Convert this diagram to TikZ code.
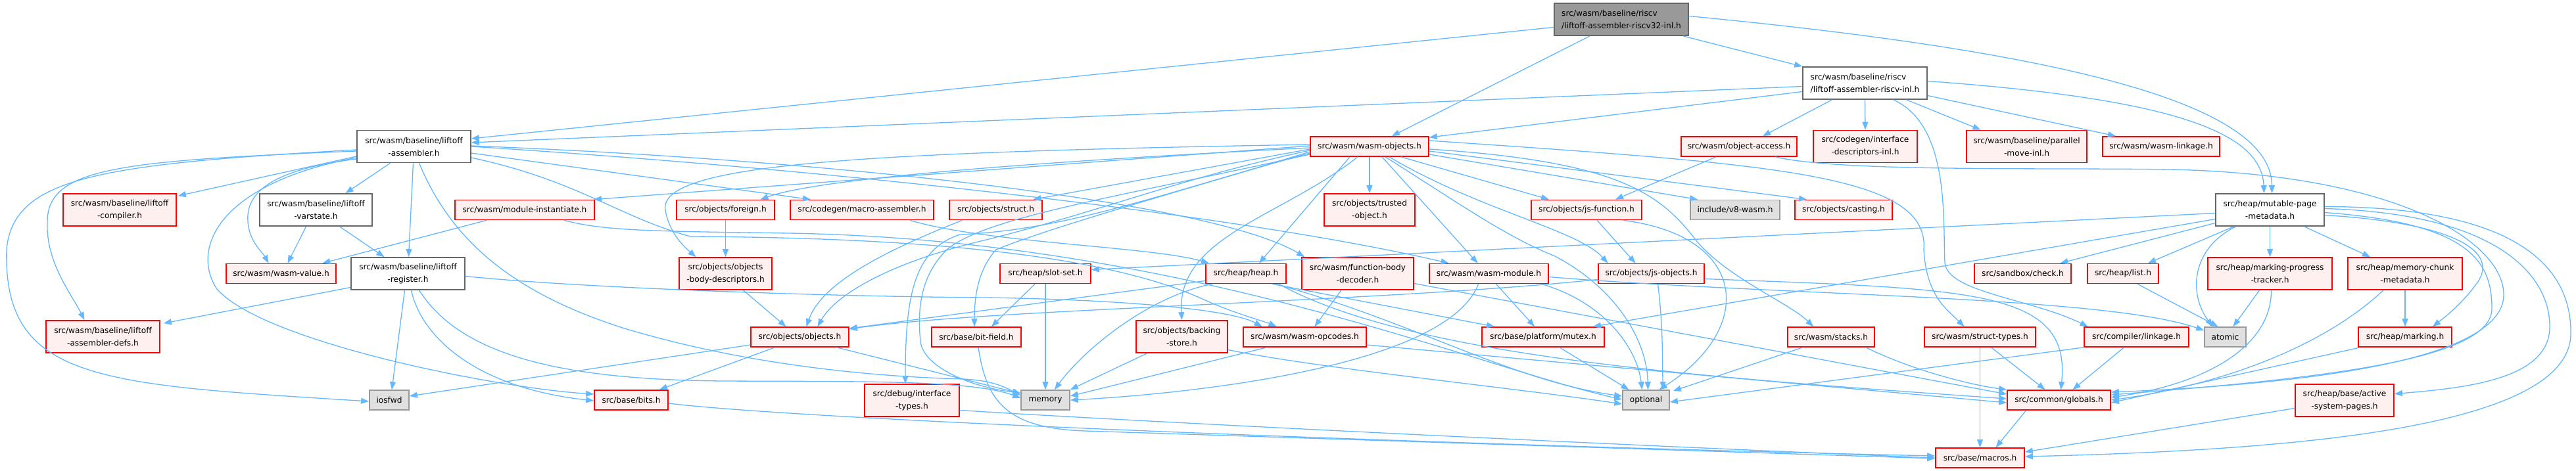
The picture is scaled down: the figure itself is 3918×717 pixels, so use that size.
\documentclass[tikz,border=0pt]{standalone}
\usepackage{fontspec}
\newfontfamily\djv{DejaVu Sans}
\usetikzlibrary{arrows.meta}
\definecolor{edgeblue}{HTML}{63B8FF}
\definecolor{redfill}{HTML}{FFF0F0}
\definecolor{gryA}{HTML}{666666}
\definecolor{gryB}{HTML}{999999}
\definecolor{gryC}{HTML}{E0E0E0}
\tikzset{
  nb/.style={rectangle, inner sep=0pt, line width=1.7pt, align=center, minimum height=30pt,
    font={\djv\fontsize{12.2}{19}\selectfont}, text=black},
  redn/.style={nb, draw=red, fill=redfill},
  whiten/.style={nb, draw=gryA, fill=white},
  grayn/.style={nb, draw=gryB, fill=gryC},
  topn/.style={nb, draw=gryA, fill=gryB},
  two/.style={minimum height=49pt},
  e/.style={draw=edgeblue, line width=1.3pt, -{Triangle[length=12pt,width=9pt]}, fill=none},
}
\begin{document}
\begin{tikzpicture}[x=1pt,y=-1pt]
\fill[white] (0,0) rectangle (3918,717);
\useasboundingbox (0,0) rectangle (3918,717);
% ---- row 0/1
\node[topn,two,minimum width=204pt,align=left] (top) at (2466,29.5) {src/wasm/baseline/riscv\\/liftoff-assembler-riscv32-inl.h};
\node[whiten,two,minimum width=189pt,align=left] (rv) at (2836.5,126.5) {src/wasm/baseline/riscv\\/liftoff-assembler-riscv-inl.h};
% ---- row 2
\node[whiten,two,minimum width=173pt] (lasm) at (629.5,223) {src/wasm/baseline/liftoff\\-assembler.h};
\node[redn,minimum width=180pt] (wobj) at (2083,223) {src/wasm/wasm-objects.h};
\node[redn,minimum width=176pt] (objacc) at (2645,223) {src/wasm/object-access.h};
\node[redn,two,minimum width=158pt] (ifdesc) at (2837,223) {src/codegen/interface\\-descriptors-inl.h};
\node[redn,two,minimum width=183pt] (pmove) at (3082.5,223) {src/wasm/baseline/parallel\\-move-inl.h};
\node[redn,minimum width=178pt] (wlink) at (3287,223) {src/wasm/wasm-linkage.h};
% ---- row 3
\node[redn,two,minimum width=172pt] (lcomp) at (182,319.5) {src/wasm/baseline/liftoff\\-compiler.h};
\node[whiten,two,minimum width=171pt] (lvar) at (480.5,319.5) {src/wasm/baseline/liftoff\\-varstate.h};
\node[redn,minimum width=212pt] (modinst) at (798,319.5) {src/wasm/module-instantiate.h};
\node[redn,minimum width=149pt] (foreign) at (1103.5,319.5) {src/objects/foreign.h};
\node[redn,minimum width=218pt] (macroasm) at (1311,319.5) {src/codegen/macro-assembler.h};
\node[redn,minimum width=141pt] (struct) at (1514.5,319.5) {src/objects/struct.h};
\node[redn,two,minimum width=138pt] (trusted) at (2083,319.5) {src/objects/trusted\\-object.h};
\node[redn,minimum width=168pt] (jsfunc) at (2413,319.5) {src/objects/js-function.h};
\node[grayn,minimum width=136pt] (v8wasm) at (2639,319.5) {include/v8-wasm.h};
\node[redn,minimum width=148pt] (casting) at (2804,319.5) {src/objects/casting.h};
\node[whiten,two,minimum width=165pt] (mpm) at (3452.5,319.5) {src/heap/mutable-page\\-metadata.h};
% ---- row 4
\node[redn,minimum width=167pt] (wval) at (427.5,416.5) {src/wasm/wasm-value.h};
\node[whiten,two,minimum width=173pt] (lreg) at (620.5,416.5) {src/wasm/baseline/liftoff\\-register.h};
\node[redn,two,minimum width=141pt] (obd) at (1103.5,416.5) {src/objects/objects\\-body-descriptors.h};
\node[redn,minimum width=138pt] (slotset) at (1590,416.5) {src/heap/slot-set.h};
\node[redn,minimum width=122pt] (heap) at (1895,416.5) {src/heap/heap.h};
\node[redn,two,minimum width=170pt] (fbd) at (2065,416.5) {src/wasm/function-body\\-decoder.h};
\node[redn,minimum width=181pt] (wmod) at (2264.5,416.5) {src/wasm/wasm-module.h};
\node[redn,minimum width=161pt] (jsobj) at (2511.5,416.5) {src/objects/js-objects.h};
\node[redn,minimum width=147pt] (check) at (3076.5,416.5) {src/sandbox/check.h};
\node[redn,minimum width=108pt] (list) at (3229,416.5) {src/heap/list.h};
\node[redn,two,minimum width=189pt] (mpt) at (3452.5,416.5) {src/heap/marking-progress\\-tracker.h};
\node[redn,two,minimum width=174pt] (mcm) at (3658,416.5) {src/heap/memory-chunk\\-metadata.h};
% ---- row 5
\node[redn,two,minimum width=173pt] (adefs) at (156.5,512.5) {src/wasm/baseline/liftoff\\-assembler-defs.h};
\node[redn,minimum width=149pt] (objects) at (1216.5,513) {src/objects/objects.h};
\node[redn,minimum width=136pt] (bitfield) at (1485,513) {src/base/bit-field.h};
\node[redn,two,minimum width=139pt] (backing) at (1797.5,512.5) {src/objects/backing\\-store.h};
\node[redn,minimum width=187pt] (opcodes) at (1984.5,513) {src/wasm/wasm-opcodes.h};
\node[redn,minimum width=186pt] (mutex) at (2347,513) {src/base/platform/mutex.h};
\node[redn,minimum width=132pt] (stacks) at (2785,513) {src/wasm/stacks.h};
\node[redn,minimum width=169pt] (structtypes) at (3011.5,513) {src/wasm/struct-types.h};
\node[redn,minimum width=159pt] (linkage) at (3249.5,513) {src/compiler/linkage.h};
\node[grayn,minimum width=63pt] (atomic) at (3384.5,513) {atomic};
\node[redn,minimum width=142pt] (marking) at (3658,513) {src/heap/marking.h};
% ---- row 6
\node[grayn,minimum width=60pt] (iosfwd) at (592,609) {iosfwd};
\node[redn,minimum width=112pt] (bits) at (960,609) {src/base/bits.h};
\node[redn,two,minimum width=144pt] (dbgtypes) at (1387,609.5) {src/debug/interface\\-types.h};
\node[grayn,minimum width=74pt] (memory) at (1590,609) {memory};
\node[grayn,minimum width=71pt] (optional) at (2503.5,609) {optional};
\node[redn,minimum width=157pt] (globals) at (3131.5,609) {src/common/globals.h};
\node[redn,two,minimum width=150pt] (asp) at (3566,609.5) {src/heap/base/active\\-system-pages.h};
% ---- row 7
\node[redn,minimum width=135pt] (macros) at (3011.5,697) {src/base/macros.h};

% ===== edges
% top
\draw[e] ([yshift=-12pt]top.west) -- ([yshift=12pt]lasm.east);
\draw[e] ([xshift=-48pt]top.south) -- ([xshift=34pt]wobj.north);
\draw[e] ([xshift=94pt]top.south) -- (rv.north west);
\draw[e] ([yshift=5pt]top.east) .. controls (3150,80) and (3455,160) .. ([xshift=3pt]mpm.north);
% rv
\draw[e] ([yshift=-5pt]rv.west) -- ([yshift=6pt]lasm.east);
\draw[e] ([yshift=-13pt]rv.west) -- ([yshift=-2pt]wobj.north east);
\draw[e] ([xshift=-50pt]rv.south) -- ([xshift=36pt]objacc.north);
\draw[e] (rv.south) -- (ifdesc.north);
\draw[e] ([xshift=63pt]rv.south) -- ([xshift=-70pt]pmove.north);
\draw[e] ([yshift=-19pt]rv.east) -- ([xshift=-69pt]wlink.north);
\draw[e] ([yshift=3pt]rv.east) .. controls (3300,150) and (3440,200) .. ([xshift=-9pt]mpm.north);
\draw[e] ([xshift=43pt]rv.south) .. controls (2965,190) and (2955,330) .. (2958,400) .. controls (2962,445) and (3090,455) .. ([xshift=-74pt]linkage.north);
% lasm
\draw[e] ([yshift=-15pt]lasm.west) -- ([xshift=2pt,yshift=-4pt]lcomp.north east);
\draw[e] ([xshift=-36pt]lasm.south) -- ([xshift=45pt]lvar.north);
\draw[e] ([xshift=-1pt]lasm.south) -- ([xshift=1pt]lreg.north);
\draw[e] ([yshift=-19pt]lasm.west) .. controls (400,260) and (370,300) .. (378,345) .. controls (382,370) and (400,385) .. ([xshift=-19pt]wval.north);
\draw[e] ([yshift=-17pt]lasm.west) .. controls (330,280) and (290,380) .. (330,440) .. controls (400,520) and (750,590) .. ([yshift=9pt]bits.west);
\draw[e] ([yshift=-5pt]lasm.west) .. controls (150,250) and (20,270) .. (10,380) .. controls (5,580) and (150,585) .. ([yshift=-2pt]iosfwd.west);
\draw[e] ([yshift=-7pt]lasm.west) .. controls (180,245) and (70,255) .. (72,340) .. controls (70,400) and (110,450) .. ([xshift=-28pt]adefs.north);
\draw[e] ([xshift=8pt]lasm.south) .. controls (680,350) and (760,440) .. (950,500) .. controls (1150,560) and (1350,574) .. (1465,577) .. controls (1510,579) and (1530,590) .. ([yshift=7pt]memory.west);
\draw[e] ([yshift=-10pt]lasm.east) -- ([xshift=-78pt]macroasm.north);
\draw[e] ([yshift=1pt]lasm.east) .. controls (1300,245) and (1850,310) .. ([xshift=5pt]fbd.north west);
\draw[e] (lasm.east) .. controls (1300,260) and (1900,330) .. ([xshift=-61pt]wmod.north);
\draw[e] ([yshift=-17pt]lasm.east) .. controls (880,275) and (940,330) .. (1050,360) .. controls (1450,362) and (1700,395) .. (1833,457) .. controls (1880,478) and (1920,488) .. ([xshift=-43pt]opcodes.north);
% lvar
\draw[e] ([xshift=-15pt]lvar.south) -- ([xshift=10pt]wval.north);
\draw[e] ([xshift=36pt]lvar.south) -- ([xshift=-36pt]lreg.north);
% lreg
\draw[e] ([yshift=-21pt]lreg.west) -- ([xshift=5pt,yshift=-5pt]adefs.north east);
\draw[e] ([xshift=-5pt]lreg.south) -- ([xshift=4pt]iosfwd.north);
\draw[e] ([xshift=5pt]lreg.south) .. controls (640,510) and (720,590) .. ([yshift=-1pt]bits.west);
\draw[e] ([xshift=17pt]lreg.south) .. controls (700,540) and (850,578) .. (1100,580) .. controls (1300,581) and (1480,578) .. ([yshift=3pt]memory.west);
\draw[e] ([yshift=-4pt]lreg.east) .. controls (900,440) and (1300,452) .. (1500,453) .. controls (1750,457) and (1880,475) .. ([xshift=-65pt]opcodes.north);
% modinst
\draw[e] ([xshift=-58pt]modinst.south) -- ([xshift=63pt]wval.north);
\draw[e] ([xshift=60pt]modinst.south) .. controls (920,352) and (1000,352) .. (1200,355) .. controls (1800,365) and (2250,560) .. ([yshift=1pt]optional.west);
% wobj left
\draw[e] ([yshift=1pt]wobj.west) -- ([xshift=-2pt]modinst.north east);
\draw[e] ([yshift=-2pt]wobj.west) .. controls (1600,245) and (1250,270) .. ([xshift=53pt]foreign.north);
\draw[e] ([yshift=-4pt]wobj.west) -- ([xshift=57pt]struct.north);
\draw[e] ([yshift=3pt]wobj.west) .. controls (1300,232) and (1000,250) .. (1012,320) .. controls (1018,355) and (1040,375) .. ([xshift=-45pt]obd.north);
\draw[e] ([yshift=-6pt]wobj.west) .. controls (1800,270) and (1680,320) .. (1500,365) .. controls (1350,400) and (1270,450) .. ([xshift=27pt]objects.north);
\draw[e] ([yshift=-8pt]wobj.west) .. controls (1800,290) and (1600,345) .. (1515,380) .. controls (1488,410) and (1482,450) .. ([xshift=-3pt]bitfield.north);
\draw[e] ([yshift=-10pt]wobj.west) .. controls (1750,300) and (1620,350) .. (1460,357) .. controls (1390,380) and (1377,450) .. ([xshift=-10pt]dbgtypes.north);
\draw[e] ([yshift=-12pt]wobj.west) .. controls (1700,300) and (1500,330) .. (1440,380) .. controls (1400,420) and (1395,470) .. (1400,520) .. controls (1405,560) and (1480,590) .. ([yshift=11pt]memory.west);
% wobj bottom
\draw[e] ([xshift=-30pt]wobj.south) -- ([xshift=20pt]heap.north);
\draw[e] ([xshift=-18pt]wobj.south) .. controls (1950,330) and (1790,360) .. (backing.north);
\draw[e] (wobj.south) -- (trusted.north);
\draw[e] ([xshift=19pt]wobj.south) -- ([xshift=-17pt]wmod.north);
\draw[e] ([xshift=48pt]wobj.south) -- ([xshift=-57pt]jsfunc.north);
\draw[e] ([xshift=30pt]wobj.south) .. controls (2250,320) and (2400,350) .. ([xshift=-66pt]jsobj.north);
\draw[e] ([xshift=24pt]wobj.south) .. controls (2220,310) and (2290,360) .. (2365,390) .. controls (2460,440) and (2505,520) .. ([xshift=3pt]optional.north);
% wobj right
\draw[e] ([yshift=-12pt]wobj.east) -- ([xshift=-57pt]v8wasm.north);
\draw[e] ([yshift=-7pt]wobj.east) -- ([xshift=-56pt]casting.north);
\draw[e] ([yshift=9pt]wobj.east) .. controls (2700,250) and (2935,265) .. (2926,380) .. controls (2930,450) and (2960,470) .. ([xshift=-24pt]structtypes.north);
\draw[e] ([yshift=-4pt]wobj.east) .. controls (2450,245) and (2520,290) .. (2575,360) .. controls (2620,420) and (2720,460) .. ([xshift=-27pt]stacks.north);
% jsfunc, objacc
\draw[e] ([xshift=16pt]jsfunc.south) -- ([xshift=-24pt]jsobj.north);
\draw[e] ([xshift=56pt]jsfunc.south) .. controls (2660,360) and (2670,500) .. ([xshift=20pt]optional.north);
\draw[e] ([xshift=-35pt]objacc.south) -- ([xshift=44pt]jsfunc.north);
\draw[e] ([xshift=55pt]objacc.south) .. controls (2800,262) and (3100,255) .. (3300,258) .. controls (3650,265) and (3810,370) .. (3808,450) .. controls (3805,550) and (3500,585) .. ([yshift=12pt]globals.east);
% mpm
\draw[e] ([yshift=-5pt]mpm.west) -- ([yshift=6pt]slotset.east);
\draw[e] ([yshift=-14pt]mpm.west) -- ([xshift=76pt]mutex.north);
\draw[e] ([yshift=-20pt]mpm.west) -- ([xshift=57pt]check.north);
\draw[e] ([xshift=-55pt]mpm.south) -- ([xshift=38pt]list.north);
\draw[e] ([xshift=-52pt]mpm.south) .. controls (3330,380) and (3330,450) .. ([xshift=-19pt]atomic.north);
\draw[e] (mpm.south) -- (mpt.north);
\draw[e] ([xshift=52pt]mpm.south) -- ([xshift=-53pt]mcm.north);
\draw[e] ([yshift=-8pt]mpm.east) .. controls (3740,340) and (3800,385) .. (3768,430) .. controls (3745,462) and (3722,480) .. ([xshift=42pt]marking.north);
\draw[e] ([yshift=-4pt]mpm.east) .. controls (3760,340) and (3790,400) .. (3790,470) .. controls (3790,545) and (3550,575) .. ([yshift=8pt]globals.east);
\draw[e] ([yshift=2pt]mpm.east) .. controls (3800,325) and (3880,420) .. (3878,500) .. controls (3875,575) and (3760,590) .. ([yshift=10pt]asp.east);
\draw[e] ([yshift=5pt]mpm.east) .. controls (3850,315) and (3912,420) .. (3910,510) .. controls (3905,650) and (3500,685) .. ([yshift=2pt]macros.east);
% heap-side small nodes
\draw[e] ([xshift=-16pt]mpt.south) -- ([xshift=12pt]atomic.north);
\draw[e] ([xshift=2pt]mpt.south) .. controls (3455,530) and (3350,585) .. ([yshift=4pt]globals.east);
\draw[e] ([xshift=-33pt]mcm.south) .. controls (3520,540) and (3350,590) .. (globals.east);
\draw[e] (mcm.south) -- (marking.north);
\draw[e] ([xshift=-68pt]marking.south) -- ([yshift=-4pt]globals.east);
\draw[e] ([xshift=22pt]list.south) -- ([xshift=-11pt]atomic.north);
\draw[e] ([yshift=-12pt]asp.west) -- ([yshift=9pt]macros.east);
\draw[e] ([xshift=-50pt]globals.south) -- ([xshift=24pt]macros.north);
\draw[e] (structtypes.south) -- (macros.north);
\draw[e] ([xshift=17pt]structtypes.south) -- ([xshift=-21pt]globals.north);
\draw[e] ([xshift=-19pt]linkage.south) -- ([xshift=21pt]globals.north);
\draw[e] (linkage.south west) -- ([yshift=-3pt]optional.east);
\draw[e] ([xshift=-43pt]stacks.south) -- ([xshift=5pt,yshift=-2pt]optional.north east);
\draw[e] ([xshift=53pt]stacks.south) .. controls (2900,560) and (2990,585) .. (globals.north west);
% jsobj
\draw[e] ([xshift=10pt]jsobj.south) .. controls (2530,500) and (2528,550) .. ([xshift=26pt]optional.north);
\draw[e] ([yshift=-8pt]jsobj.east) .. controls (3000,440) and (3150,440) .. ([xshift=3pt]globals.north);
\draw[e] ([yshift=-9pt]jsobj.west) .. controls (2100,460) and (1500,470) .. ([yshift=12pt]objects.east);
% heap
\draw[e] ([yshift=-11pt]heap.west) -- ([yshift=13pt]objects.east);
\draw[e] ([xshift=-51pt]heap.south) .. controls (1750,450) and (1650,530) .. ([xshift=14pt]memory.north);
\draw[e] ([xshift=40pt]heap.south) -- ([xshift=-74pt]mutex.north);
\draw[e] ([xshift=45pt]heap.south) .. controls (2150,490) and (2300,580) .. ([yshift=6pt]optional.west);
\draw[e] ([xshift=50pt]heap.south) .. controls (2150,545) and (2600,575) .. ([yshift=2pt]globals.west);
% macroasm
\draw[e] ([xshift=73pt]macroasm.south) .. controls (1500,370) and (1750,375) .. ([xshift=-56pt]heap.north);
% fbd
\draw[e] ([xshift=-25pt]fbd.south) -- ([xshift=15pt]opcodes.north);
\draw[e] ([yshift=-15pt]fbd.east) -- ([yshift=9pt]globals.west);
% wmod
\draw[e] ([xshift=-16pt]wmod.south) .. controls (2200,560) and (1800,600) .. (memory.east);
\draw[e] ([xshift=11pt]wmod.south) -- ([xshift=-13pt]mutex.north);
\draw[e] ([xshift=80pt]wmod.south) .. controls (2440,460) and (2490,530) .. ([xshift=-6pt]optional.north);
\draw[e] ([yshift=-5pt]wmod.east) .. controls (2700,450) and (3200,450) .. ([yshift=10pt]atomic.west);
% mutex, opcodes, backing
\draw[e] ([xshift=25pt]mutex.south) -- ([xshift=-26pt]optional.north);
\draw[e] ([xshift=-58pt]opcodes.south) -- ([yshift=6pt]memory.east);
\draw[e] ([yshift=-12pt]opcodes.east) -- ([yshift=-4pt]globals.west);
\draw[e] ([xshift=-53pt]backing.south) -- (memory.north east);
\draw[e] ([yshift=-20pt]backing.east) .. controls (2000,560) and (2300,590) .. ([yshift=-6pt]optional.west);
% objects group
\draw[e] (foreign.south) -- (obd.north);
\draw[e] ([xshift=27pt]obd.south) -- ([xshift=-21pt]objects.north);
\draw[e] ([xshift=-51pt]struct.south) .. controls (1350,380) and (1250,430) .. ([xshift=10pt]objects.north);
\draw[e] ([yshift=-12pt]objects.west) -- ([yshift=6pt]iosfwd.east);
\draw[e] ([xshift=-38pt]objects.south) -- ([xshift=43pt]bits.north);
\draw[e] ([xshift=56pt]objects.south) -- ([yshift=10pt]memory.west);
\draw[e] ([xshift=-16pt]slotset.south) -- ([xshift=23pt]bitfield.north);
\draw[e] (slotset.south) -- (memory.north);
% to macros
\draw[e] ([xshift=3pt]bitfield.south) .. controls (1500,610) and (1530,652) .. (1650,656) -- ([yshift=-1pt]macros.west);
\draw[e] ([yshift=-5pt]bits.east) .. controls (1250,642) and (2300,680) .. ([yshift=3pt]macros.west);
\draw[e] ([yshift=-15pt]dbgtypes.east) .. controls (1700,640) and (2400,675) .. (macros.west);
\end{tikzpicture}
\end{document}
